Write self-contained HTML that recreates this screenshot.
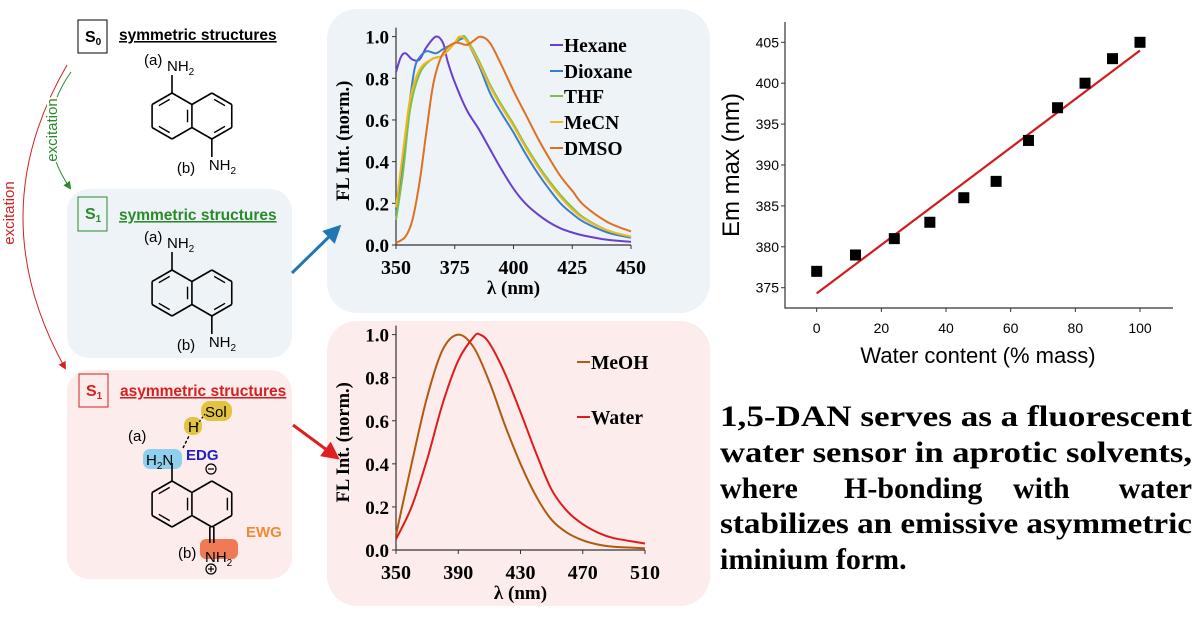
<!DOCTYPE html>
<html><head><meta charset="utf-8">
<style>
html,body{margin:0;padding:0;background:#fff;}
svg{display:block;}
.serif{font-family:"Liberation Serif",serif;font-weight:bold;}
.sans{font-family:"Liberation Sans",sans-serif;}
</style></head>
<body>
<svg id="root" width="1199" height="617" viewBox="0 0 1199 617" xmlns="http://www.w3.org/2000/svg">
<defs>
<marker id="ar" markerWidth="8" markerHeight="8" refX="6" refY="4" orient="auto"><path d="M0,0 L8,4 L0,8 z" fill="#d42020"/></marker>
<marker id="ag" markerWidth="8" markerHeight="8" refX="6" refY="4" orient="auto"><path d="M0,0 L8,4 L0,8 z" fill="#2a8a2a"/></marker>
<marker id="ab" markerWidth="6" markerHeight="6" refX="4" refY="3" orient="auto"><path d="M0,0 L6,3 L0,6 z" fill="#1f78b4"/></marker>
<marker id="ar2" markerWidth="6" markerHeight="6" refX="4" refY="3" orient="auto"><path d="M0,0 L6,3 L0,6 z" fill="#e02020"/></marker>
</defs>
<rect x="67" y="189" width="225" height="169" rx="22" fill="#eef3f8"/>
<rect x="67" y="370" width="225" height="209" rx="22" fill="#fdecec"/>
<rect x="327" y="9" width="383" height="304" rx="30" fill="#eef3f8"/>
<rect x="327" y="321" width="383" height="285" rx="30" fill="#fdecec"/>

<g class="sans" font-weight="bold">
<rect x="78" y="20" width="29" height="33" fill="none" stroke="#000"/>
<text x="85" y="42" font-size="16">S<tspan font-size="10" dy="3">0</tspan></text>
<text x="119" y="40" font-size="15.5" text-decoration="underline">symmetric structures</text>
<rect x="78" y="197" width="29" height="34" fill="none" stroke="#2a8a2a"/>
<text x="85" y="219" font-size="16" fill="#2a8a2a">S<tspan font-size="10" dy="3">1</tspan></text>
<text x="119" y="220" font-size="15.5" fill="#2a8a2a" text-decoration="underline">symmetric structures</text>
<rect x="79" y="374" width="29" height="33" fill="none" stroke="#d42020"/>
<text x="86" y="396" font-size="16" fill="#d42020">S<tspan font-size="10" dy="3">1</tspan></text>
<text x="120" y="396" font-size="15.5" fill="#d42020" text-decoration="underline">asymmetric structures</text>
</g>

<path d="M67,65 Q-20,215 65,368" fill="none" stroke="#d42020" stroke-width="1" marker-end="url(#ar)"/>
<text transform="translate(14,213) rotate(-90)" text-anchor="middle" class="sans" font-size="15" fill="#d42020" stroke="#fff" stroke-width="4" paint-order="stroke">excitation</text>
<path d="M71,72 Q30,130 70,188" fill="none" stroke="#2a8a2a" stroke-width="1" marker-end="url(#ag)"/>
<text transform="translate(57,130) rotate(-90)" text-anchor="middle" class="sans" font-size="15" fill="#2a8a2a" stroke="#fff" stroke-width="4" paint-order="stroke">excitation</text>

<line x1="292" y1="273" x2="337" y2="229" stroke="#1f78b4" stroke-width="3" marker-end="url(#ab)"/>
<line x1="293" y1="425" x2="335" y2="456" stroke="#e02020" stroke-width="3" marker-end="url(#ar2)"/>

<rect x="201" y="401" width="31" height="20" rx="9" fill="#e2c440"/>
<rect x="184" y="417" width="18" height="18" rx="8" fill="#e2c440"/>
<rect x="143" y="449" width="39" height="20" rx="7" fill="#8fd0ee"/>
<rect x="200" y="539" width="38" height="20" rx="6" fill="#f07a55"/>
<g id="mols" class="sans" font-size="15"></g>

<g class="serif" font-size="30" fill="#000">
<text x="720" y="426" textLength="472" lengthAdjust="spacingAndGlyphs">1,5-DAN serves as a fluorescent</text>
<text x="720" y="462" textLength="472" lengthAdjust="spacingAndGlyphs">water sensor in aprotic solvents,</text>
<g>
<text x="720" y="498">where</text>
<text x="844" y="498">H-bonding</text>
<text x="1013" y="498">with</text>
<text x="1192" y="498" text-anchor="end">water</text>
</g>
<text x="720" y="533" textLength="472" lengthAdjust="spacingAndGlyphs">stabilizes an emissive asymmetric</text>
<text x="720" y="569">iminium form.</text>
</g>
<g id="c1"></g><g id="c2"></g><g id="c3"></g>
</svg>
<script>
// ---- chart 1 data (aprotic solvents) ----
const hexX=[350,352,354,357,360,363,367,370,372,375,380,385,390,395,400,405,410,415,420,425,430,440,450];
const hexY=[0.83,0.90,0.92,0.89,0.89,0.95,1.0,0.97,0.88,0.78,0.65,0.56,0.46,0.36,0.27,0.2,0.15,0.11,0.08,0.06,0.045,0.025,0.015];
const dioX=[350,353,356,358,360,363,367,370,375,378,380,385,390,395,400,405,410,415,420,425,430,440,450];
const dioY=[0.14,0.4,0.7,0.85,0.9,0.93,0.92,0.94,0.97,0.99,0.98,0.87,0.73,0.63,0.54,0.44,0.35,0.27,0.2,0.15,0.11,0.06,0.035];
const thfX=[350,353,356,360,365,370,375,378,380,385,390,395,400,405,410,415,420,425,430,440,450];
const thfY=[0.12,0.35,0.65,0.82,0.89,0.91,0.97,1.0,0.99,0.89,0.77,0.67,0.58,0.48,0.39,0.31,0.24,0.18,0.13,0.07,0.04];
const mecnX=[350,353,356,360,365,370,375,377,380,385,390,395,400,405,410,415,420,425,430,440,450];
const mecnY=[0.18,0.45,0.7,0.84,0.89,0.91,0.97,1.0,0.98,0.88,0.76,0.66,0.57,0.47,0.38,0.30,0.23,0.17,0.125,0.07,0.04];
const dmsoX=[350,354,357,360,363,366,370,375,380,383,386,390,395,400,405,410,415,420,425,430,440,450];
const dmsoY=[0.01,0.04,0.12,0.3,0.55,0.78,0.92,0.97,0.96,0.98,1.0,0.97,0.86,0.74,0.63,0.52,0.42,0.33,0.26,0.19,0.11,0.065];
const c1XTicks=[350,375,400,425,450];
const c1YTicks=[0,0.2,0.4,0.6,0.8,1.0];
// ---- chart 2 data (protic solvents) ----
const meohX=[350,360,370,380,390,400,410,420,430,440,450,460,470,480,490,510];
const meohY=[0.07,0.4,0.71,0.93,1.0,0.94,0.78,0.58,0.40,0.25,0.14,0.08,0.045,0.025,0.015,0.008];
const waterX=[350,360,370,380,390,400,404,410,420,430,440,450,460,470,480,490,510];
const waterY=[0.05,0.2,0.42,0.68,0.88,0.99,1.0,0.96,0.82,0.64,0.45,0.28,0.18,0.12,0.08,0.055,0.03];
const c2XTicks=[350,390,430,470,510];
const c2YTicks=[0,0.2,0.4,0.6,0.8,1.0];
// ---- chart 3 data (Em max vs water content) ----
const waterContent=[0,12,24,35,45.5,55.5,65.5,74.5,83,91.5,100];
const emMax=[377,379,381,383,386,388,393,397,400,403,405];
const fitX=[0,100];
const fitY=[374.3,404];
const c3XTicks=[0,20,40,60,80,100];
const c3YTicks=[375,380,385,390,395,400,405];

const NS="http://www.w3.org/2000/svg";
function mk(tag,attrs,parent){const e=document.createElementNS(NS,tag);for(const k in attrs)e.setAttribute(k,attrs[k]);parent.appendChild(e);return e;}
function smooth(pts){let d="M"+pts[0][0].toFixed(1)+","+pts[0][1].toFixed(1);
 for(let i=0;i<pts.length-1;i++){const p0=pts[i-1]||pts[i],p1=pts[i],p2=pts[i+1],p3=pts[i+2]||p2;
  const c1x=p1[0]+(p2[0]-p0[0])/6,c1y=p1[1]+(p2[1]-p0[1])/6,c2x=p2[0]-(p3[0]-p1[0])/6,c2y=p2[1]-(p3[1]-p1[1])/6;
  d+=" C"+c1x.toFixed(1)+","+c1y.toFixed(1)+" "+c2x.toFixed(1)+","+c2y.toFixed(1)+" "+p2[0].toFixed(1)+","+p2[1].toFixed(1);}
 return d;}

function specChart(g,cfg){
 const sx=v=>cfg.x0+(v-cfg.xmin)/(cfg.xmax-cfg.xmin)*(cfg.x1-cfg.x0);
 const sy=v=>cfg.y0-(v)/(1)*(cfg.y0-cfg.y1);
 const ax=mk('path',{d:`M${cfg.x0},${cfg.y1-9} V${cfg.y0} H${cfg.x1}`,fill:'none',stroke:'#333','stroke-width':1.2},g);
 
 
 cfg.xt.forEach(t=>{const x=sx(t);mk('line',{x1:x,x2:x,y1:cfg.y0,y2:cfg.y0+4,stroke:'#333'},g);
  const tx=mk('text',{x:x,y:cfg.y0+29,'text-anchor':'middle','font-size':20,class:'serif'},g);tx.textContent=t;
  
  });
 cfg.yt.forEach(t=>{const y=sy(t);mk('line',{x1:cfg.x0-4,x2:cfg.x0,y1:y,y2:y,stroke:'#333'},g);
  const tx=mk('text',{x:cfg.x0-7,y:y+7,'text-anchor':'end','font-size':19,class:'serif'},g);tx.textContent=t.toFixed(1);
  
  });
 const xtl=mk('text',{x:(cfg.x0+cfg.x1)/2,y:cfg.y0+49,'text-anchor':'middle','font-size':19,class:'serif'},g);xtl.textContent='λ (nm)';
 
 
 const ytl=mk('text',{transform:`translate(349,${(cfg.y0+cfg.y1)/2}) rotate(-90)`,'text-anchor':'middle','font-size':18.5,class:'serif'},g);ytl.textContent='FL Int. (norm.)';
 
 
 cfg.series.forEach(s=>{const p=mk('path',{d:smooth(s.x.map((v,i)=>[sx(v),sy(s.y[i])])),fill:'none',stroke:s.c,'stroke-width':2},g);
  
  
  mk('line',{x1:cfg.lx,x2:cfg.lx+13,y1:s.ly-7,y2:s.ly-7,stroke:s.c,'stroke-width':2},g);
  const lt=mk('text',{x:cfg.lx+14,y:s.ly,'font-size':19.5,class:'serif'},g);lt.textContent=s.n;
  
  });
}
specChart(document.getElementById('c1'),{x0:396,x1:631,y0:245,y1:36.6,xmin:350,xmax:450,xt:c1XTicks,yt:c1YTicks,lx:550,
 series:[{n:'Hexane',x:hexX,y:hexY,c:'#6a3fd0',ly:52},{n:'Dioxane',x:dioX,y:dioY,c:'#3a7dd0',ly:78},{n:'THF',x:thfX,y:thfY,c:'#7cbf4a',ly:103},{n:'MeCN',x:mecnX,y:mecnY,c:'#f0b820',ly:129},{n:'DMSO',x:dmsoX,y:dmsoY,c:'#e07020',ly:155}]});
specChart(document.getElementById('c2'),{x0:396,x1:645,y0:550,y1:334.6,xmin:350,xmax:510,xt:c2XTicks,yt:c2YTicks,lx:577,
 series:[{n:'MeOH',x:meohX,y:meohY,c:'#b05a10',ly:369},{n:'Water',x:waterX,y:waterY,c:'#dd1c1c',ly:424}]});

(function(){
 const g=document.getElementById('c3');
 const X0=785,X1=1173,Y0=308,YT=22;
 const sx=v=>816.7+v*3.233, sy=v=>287.7-(v-375)*8.18;
 const ax=mk('path',{d:`M${X0},${YT} V${Y0} H${X1}`,fill:'none',stroke:'#333','stroke-width':1.2},g);
 
 
 c3XTicks.forEach(t=>{const x=sx(t);mk('line',{x1:x,x2:x,y1:Y0,y2:Y0+4,stroke:'#333'},g);
  const tx=mk('text',{x:x,y:Y0+25,'text-anchor':'middle','font-size':14,class:'sans'},g);tx.textContent=t;
  
  });
 c3YTicks.forEach(t=>{const y=sy(t);mk('line',{x1:X0-4,x2:X0,y1:y,y2:y,stroke:'#333'},g);
  const tx=mk('text',{x:X0-6,y:y+5,'text-anchor':'end','font-size':14,class:'sans'},g);tx.textContent=t;
  
  });
 const fl=mk('line',{x1:sx(fitX[0]),y1:sy(fitY[0]),x2:sx(fitX[1]),y2:sy(fitY[1]),stroke:'#d01c1c','stroke-width':2.2},g);
 
 
 waterContent.forEach((v,i)=>{const r=mk('rect',{x:sx(v)-5.5,y:sy(emMax[i])-5.5,width:11,height:11,fill:'#000'},g);
  
  });
 const xt=mk('text',{x:978,y:363,'text-anchor':'middle','font-size':22,class:'sans'},g);xt.textContent='Water content (% mass)';
 
 
 const yt=mk('text',{transform:'translate(739,165) rotate(-90)','text-anchor':'middle','font-size':24,class:'sans'},g);yt.textContent='Em max (nm)';
 
 
})();

(function(){
 const g=document.getElementById('mols');
 const r=23,h=r*Math.sqrt(3)/2;
 function hexPts(cx,cy){const p=[];for(let k=0;k<6;k++){const a=(-90+60*k)*Math.PI/180;p.push([cx+r*Math.cos(a),cy+r*Math.sin(a)]);}return p;}
 function line(a,b,sw){mk('line',{x1:a[0],y1:a[1],x2:b[0],y2:b[1],stroke:'#000','stroke-width':sw||1.6},g);}
 function inner(a,b,c){const f=0.78;const ia=[c[0]+(a[0]-c[0])*f,c[1]+(a[1]-c[1])*f],ib=[c[0]+(b[0]-c[0])*f,c[1]+(b[1]-c[1])*f];
  const m=0.15;line([ia[0]+(ib[0]-ia[0])*m,ia[1]+(ib[1]-ia[1])*m],[ib[0]-(ib[0]-ia[0])*m,ib[1]-(ib[1]-ia[1])*m],1.4);}
 function txt(x,y,s,extra){const t=mk('text',Object.assign({x:x,y:y},extra||{}),g);t.innerHTML=s;return t;}
 function naph(cx,cy,asym){
  const L=hexPts(cx,cy),R=hexPts(cx+2*h,cy);
  for(let k=0;k<6;k++)line(L[k],L[(k+1)%6]);
  for(let k=0;k<6;k++){if(k===4)continue;line(R[k],R[(k+1)%6]);}
  const cL=[cx,cy],cR=[cx+2*h,cy];
  inner(L[3],L[4],cL);inner(L[5],L[0],cL);inner(L[1],L[2],cL);
  if(asym){inner(R[1],R[2],cR);}else{inner(R[0],R[1],cR);inner(R[2],R[3],cR);}
  line(L[0],[L[0][0],L[0][1]-18]);
  if(asym){line([R[3][0]-2,R[3][1]],[R[3][0]-2,R[3][1]+16]);line([R[3][0]+2,R[3][1]],[R[3][0]+2,R[3][1]+16]);}
  else line(R[3],[R[3][0],R[3][1]+18]);
  return {top:L[0],bot:R[3]};
 }
 let m=naph(172,116,false);
 txt(m.top[0]-5,m.top[1]-22,'NH<tspan font-size="10" dy="4">2</tspan>');
 txt(m.top[0]-28,m.top[1]-28,'(a)');
 txt(m.bot[0]-3,m.bot[1]+31,'NH<tspan font-size="10" dy="4">2</tspan>');
 txt(m.bot[0]-35,m.bot[1]+34,'(b)');
 m=naph(172,293,false);
 txt(m.top[0]-5,m.top[1]-22,'NH<tspan font-size="10" dy="4">2</tspan>');
 txt(m.top[0]-28,m.top[1]-28,'(a)');
 txt(m.bot[0]-3,m.bot[1]+31,'NH<tspan font-size="10" dy="4">2</tspan>');
 txt(m.bot[0]-35,m.bot[1]+34,'(b)');
 m=naph(172,504,true);
 txt(146,465,'H<tspan font-size="10" dy="4">2</tspan><tspan dy="-4">N</tspan>');
 txt(128,441,'(a)');
 txt(188,432,'H');
 txt(205,417,'Sol');
 mk('line',{x1:183,y1:448,x2:189,y2:436,stroke:'#000','stroke-width':1.4,'stroke-dasharray':'3,2'},g);
 mk('line',{x1:197,y1:425,x2:205,y2:414,stroke:'#000','stroke-width':1.2,'stroke-dasharray':'2,2'},g);
 txt(186,460,'EDG',{fill:'#2020c0','font-weight':'bold'});
 txt(205,562,'NH<tspan font-size="10" dy="4">2</tspan>');
 txt(178,558,'(b)');
 txt(246,537,'EWG',{fill:'#f08a30','font-weight':'bold'});
 mk('circle',{cx:211,cy:469,r:5,fill:'none',stroke:'#000','stroke-width':1.2},g);
 line([208,469],[214,469],1.2);
 mk('circle',{cx:211,cy:569,r:5,fill:'none',stroke:'#000','stroke-width':1.2},g);
 line([208,569],[214,569],1.2);line([211,566],[211,572],1.2);
})();
</script>
</body></html>
